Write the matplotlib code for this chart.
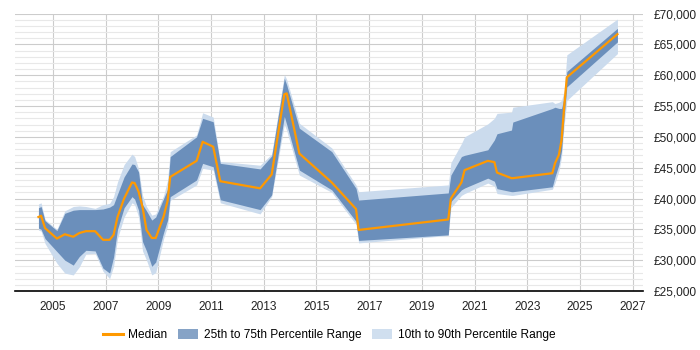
import matplotlib
matplotlib.use("Agg")
import matplotlib.pyplot as plt
from matplotlib.patches import Patch
from matplotlib.lines import Line2D
from matplotlib.ticker import MultipleLocator, FuncFormatter

plt.rcParams["font.family"] = ["Liberation Sans", "DejaVu Sans"]

# (decimal year) breakpoints
years = [2004.45, 2004.55, 2004.7, 2005.15, 2005.45, 2005.77, 2006.0, 2006.25, 2006.6,
         2006.9, 2007.15, 2007.3, 2007.45, 2007.7, 2008.0, 2008.1, 2008.25, 2008.4,
         2008.55, 2008.75, 2008.9, 2009.2, 2009.35, 2009.45, 2010.45, 2010.68, 2011.08,
         2011.35, 2012.86, 2013.3, 2013.78, 2013.87, 2014.35, 2015.58, 2016.5, 2016.6,
         2020.0, 2020.1, 2020.5, 2020.62, 2021.5, 2021.75, 2021.85, 2022.4, 2022.45,
         2023.95, 2024.05, 2024.2, 2024.3, 2024.4, 2024.5, 2026.42]

p10 = [34900, 34700, 32700, 29500, 27900, 27600, 28900, 31000, 31100,
       28200, 27000, 29000, 33500, 37000, 39300, 39000, 37000, 31500,
       30000, 27600, 28000, 33500, 35500, 39700, 42200, 44900, 44600,
       39300, 37500, 40300, 52000, 51000, 43800, 41000, 35800, 32800,
       34000, 38500, 40500, 40800, 42500, 42000, 40800, 40500, 40500,
       41500, 42500, 44500, 46800, 52000, 55900, 63500]

p25 = [35200, 35000, 33500, 31400, 30000, 29200, 30600, 31600, 31500,
       28700, 27900, 30500, 35000, 38500, 40300, 39900, 38100, 33000,
       31500, 29000, 29700, 34500, 36500, 40300, 43000, 45700, 45150,
       39800, 38200, 40600, 53300, 52000, 44600, 41400, 36300, 33200,
       34100, 39500, 41400, 41700, 43300, 42800, 41600, 41100, 41100,
       41900, 43500, 45500, 47800, 53500, 58100, 65400]

median = [37000, 37200, 35200, 33500, 34200, 33800, 34400, 34700, 34700,
          33300, 33300, 34100, 37000, 40000, 42600, 42500, 41100, 38600,
          34900, 33600, 33600, 37100, 39600, 43500, 46100, 49200, 48400,
          42800, 41650, 43900, 56900, 57050, 47300, 42600, 38300, 34900,
          36600, 40000, 42600, 44600, 46100, 45900, 44200, 43300, 43300,
          44100, 45700, 47100, 49500, 54900, 59650, 66650]

p75 = [38500, 38700, 36400, 34800, 37600, 38100, 38200, 38200, 38200,
       38300, 38600, 39000, 40700, 43500, 45600, 45500, 44300, 39000,
       38000, 36500, 37000, 40000, 41500, 46800, 50000, 53000, 52450,
       45700, 44800, 46900, 59500, 58400, 51400, 47600, 41650, 39750,
       40900, 43800, 46800, 47000, 47900, 49500, 50500, 51100, 52400,
       54600, 54800, 54600, 54600, 56500, 60600, 67600]

p90 = [39100, 39300, 36600, 35000, 38000, 38700, 38800, 38700, 38400,
       39000, 39200, 40300, 42700, 45500, 47200, 46800, 44800, 40500,
       38700, 37300, 37500, 40500, 43000, 47600, 50300, 53900, 53200,
       46000, 45400, 47200, 60100, 59300, 52200, 48200, 42200, 41100,
       42200, 45800, 48900, 50000, 52100, 53000, 53800, 54000, 54800,
       55700, 55400, 55600, 55900, 57500, 63300, 69100]

x_ticks = list(range(2005, 2028, 2))

ORANGE = "#ff9900"
DARK = "#6b8fbb"
LIGHT = "#cbdbed"

fig = plt.figure(figsize=(7, 3.5), dpi=100)
ax = fig.add_axes([15 / 700, 1 - 291 / 350, 628 / 700, 277.5 / 350])

ax.fill_between(years, p10, p90, color=LIGHT, linewidth=0, zorder=2)
ax.fill_between(years, p25, p75, color=DARK, linewidth=0, zorder=3)
ax.plot(years, median, color=ORANGE, linewidth=1.6, zorder=4)

ax.set_xlim(2003.56, 2027.39)
ax.set_ylim(25000, 70000)
ax.set_xticks(x_ticks)
ax.yaxis.set_major_locator(MultipleLocator(5000))
ax.yaxis.set_minor_locator(MultipleLocator(1000))
ax.yaxis.set_major_formatter(FuncFormatter(lambda v, _: f"£{v:,.0f}"))
ax.yaxis.tick_right()

ax.grid(True, which="major", axis="both", color="#cccccc", linewidth=0.8, zorder=0)
ax.grid(True, which="minor", axis="y", color="#e8e8e8", linewidth=0.8, zorder=0)
ax.set_axisbelow(True)

for side in ["left", "right", "top"]:
    ax.spines[side].set_visible(False)
ax.spines["bottom"].set_color("black")
ax.spines["bottom"].set_linewidth(1.2)
ax.tick_params(axis="both", which="both", length=0, labelsize=8.6, colors="#222222")
ax.tick_params(axis="y", pad=8)
ax.tick_params(axis="x", pad=7)

handles = [
    Line2D([0], [0], color=ORANGE, linewidth=2.2),
    Patch(facecolor="#86a3c6", edgecolor="none"),
    Patch(facecolor="#d0dfef", edgecolor="none"),
]
labels = ["Median", "25th to 75th Percentile Range", "10th to 90th Percentile Range"]
fig.legend(handles, labels, loc="center", bbox_to_anchor=(329 / 700, 15 / 350),
           ncol=3, frameon=False, fontsize=8.6, handlelength=1.7, handleheight=1.0,
           handletextpad=0.45, columnspacing=0.9)

fig.savefig("out.png", dpi=100)
